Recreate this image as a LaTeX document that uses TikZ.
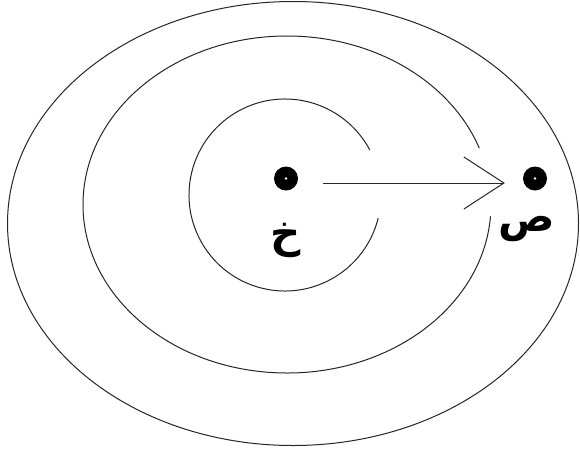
\documentclass[tikz,border=0pt]{standalone}
\usepackage{fontspec}
\newfontfamily\arabicfont[Script=Arabic]{DejaVu Sans}
\TeXXeTstate=1
\usetikzlibrary{arrows.meta}
\begin{document}
\begin{tikzpicture}[x=1pt,y=-1pt,
  ring/.style={line width=1pt, draw=black!85},
  dotnode/.style={circle, fill=black, inner sep=0pt, minimum size=24pt},
  lbl/.style={font=\arabicfont\bfseries\fontsize{42}{50}\selectfont, inner sep=0pt},
  conn/.style={line width=1pt, draw=black!85, -{Straight Barb[length=40pt,width=52pt,line width=1pt]}}]
\useasboundingbox[fill=white] (0,0) rectangle (580,450);
% outer ellipse
\draw[ring] (293,223.5) ellipse [x radius=285.5, y radius=222];
% middle ellipse with gap on the right
\draw[ring] (287,204.5) ++(4:204 and 168.5) arc[start angle=4, end angle=340.5, x radius=204, y radius=168.5];
% inner circle with gap on the right
\draw[ring] (285,195) ++(14:96) arc[start angle=14, end angle=332, radius=96];
% points
\node[dotnode] (kh) at (286,178.5) {};
\node[dotnode] (sad) at (535,178.5) {};
\fill[white] (kh.center) circle (1.3);
\fill[white] (sad.center) circle (1.3);
% connector
\draw[conn] ([xshift=25pt,yshift=-4.5pt]kh.east) -- ([xshift=-18pt,yshift=-4.5pt]sad.west);
% labels
\node[lbl] (khl) at (286,240) {\beginR خ\endR};
\node[lbl] (sadl) at (527,229) {\beginR ص\endR};
\end{tikzpicture}
\end{document}
